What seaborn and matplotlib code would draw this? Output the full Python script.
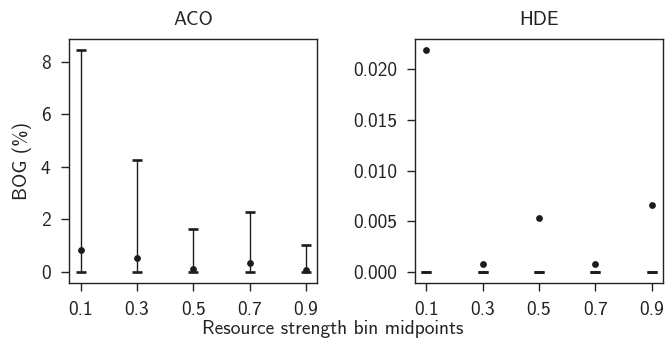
import numpy as np
import pandas as pd
import matplotlib
matplotlib.use("Agg")
import matplotlib.pyplot as plt
import matplotlib.ticker as mticker
import seaborn as sns

# ---- data ----
midpoints = [0.1, 0.3, 0.5, 0.7, 0.9]
aco_mean = [0.85, 0.54, 0.10, 0.33, 0.06]
aco_lower = [0.0, 0.0, 0.0, 0.0, 0.0]
aco_upper = [8.45, 4.28, 1.62, 2.27, 1.02]
hde_mean = [0.0219, 0.00076, 0.00536, 0.0008, 0.0066]
hde_lower = [0.0, 0.0, 0.0, 0.0, 0.0]
hde_upper = [0.0, 0.0, 0.0, 0.0, 0.0]
titles = ["ACO", "HDE"]

sns.set_theme(style="ticks")
plt.rcParams["font.family"] = ["cmss10", "DejaVu Sans"]
plt.rcParams["axes.formatter.use_mathtext"] = True
plt.rcParams["font.size"] = 14

fig, axes = plt.subplots(1, 2, figsize=(6.66, 3.42), dpi=100)
fig.subplots_adjust(left=0.104, right=0.9955, top=0.886, bottom=0.1725, wspace=0.395)

series = [(aco_mean, aco_lower, aco_upper), (hde_mean, hde_lower, hde_upper)]
col = "#1c1c1c"
txt = "#222222"
for ax, title, (m, lo, up) in zip(axes, titles, series):
    df = pd.DataFrame({"x": midpoints, "mean": m, "lo": lo, "up": up})
    ax.vlines(df["x"], df["lo"], df["up"], color=col, linewidth=1.0, zorder=2)
    for c in ["lo", "up"]:
        ax.plot(df["x"], df[c], linestyle="none", marker="_", markersize=7.5,
                markeredgewidth=1.9, color=col, zorder=2)
    sns.scatterplot(data=df, x="x", y="mean", ax=ax, color=col, s=24,
                    edgecolor=col, linewidth=0, zorder=3)
    ax.set_xticks(midpoints)
    ax.set_xticklabels([f"{v:.1f}" for v in midpoints])
    ax.set_title(title, fontsize=14, pad=10, color=txt)
    ax.set_xlabel("")
    ax.set_ylabel("")
    ax.tick_params(axis="both", labelsize=14, length=5.8, width=1, pad=7,
                   color="#222222", labelcolor=txt)
    for s in ax.spines.values():
        s.set_linewidth(1.0)
        s.set_color("#222222")

axes[0].set_ylabel("BOG (%)", fontsize=14, color=txt, labelpad=6)
axes[1].yaxis.set_major_formatter(mticker.FormatStrFormatter("%.3f"))
fig.text(0.5, 0.012, "Resource strength bin midpoints", ha="center", va="bottom",
         fontsize=14, color=txt)

fig.savefig("out.png", dpi=100)
